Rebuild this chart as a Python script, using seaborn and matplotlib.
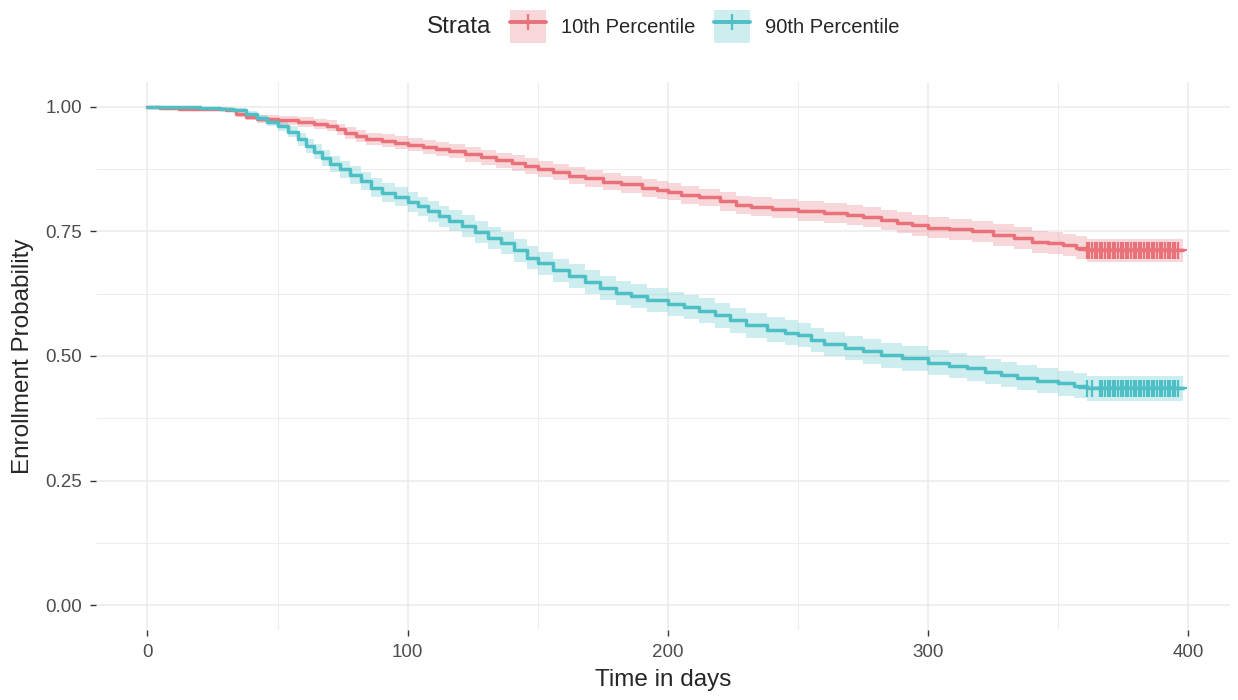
import matplotlib
matplotlib.use("Agg")
import matplotlib.pyplot as plt
from matplotlib.lines import Line2D
from matplotlib.patches import Patch
from matplotlib.ticker import MultipleLocator
import seaborn as sns
import pandas as pd

# Kaplan-Meier style curves
strata = ["10th Percentile", "90th Percentile"]
colores = ["#E9727A", "#4DBFC5"]

tiempo_p10 = [0, 5, 12, 30, 34, 38, 42, 50, 58, 64,
              69, 73, 76, 80, 84, 90, 95, 100, 106, 111,
              116, 122, 128, 134, 140, 145, 150, 156, 162, 168,
              175, 182, 190, 196, 200, 205, 212, 220, 226, 232,
              240, 250, 260, 269, 275, 282, 288, 294, 300, 308,
              317, 325, 333, 340, 346, 352, 357, 361, 398]
surv_p10 = [1.000, 0.997, 0.995, 0.993, 0.986, 0.980, 0.976, 0.973, 0.970, 0.966,
            0.962, 0.955, 0.948, 0.942, 0.936, 0.932, 0.928, 0.924, 0.919, 0.915,
            0.911, 0.905, 0.899, 0.893, 0.887, 0.881, 0.876, 0.869, 0.862, 0.857,
            0.850, 0.845, 0.838, 0.833, 0.830, 0.823, 0.818, 0.810, 0.803, 0.799,
            0.795, 0.790, 0.787, 0.783, 0.778, 0.772, 0.767, 0.762, 0.757, 0.754,
            0.750, 0.743, 0.737, 0.729, 0.726, 0.722, 0.717, 0.712, 0.712]
ic_p10 = [0.000, 0.002, 0.003, 0.004, 0.006, 0.007, 0.008, 0.009, 0.010, 0.010,
          0.011, 0.011, 0.012, 0.012, 0.012, 0.013, 0.013, 0.013, 0.014, 0.014,
          0.014, 0.015, 0.015, 0.015, 0.016, 0.016, 0.016, 0.016, 0.017, 0.017,
          0.017, 0.017, 0.018, 0.018, 0.018, 0.018, 0.018, 0.019, 0.019, 0.019,
          0.019, 0.020, 0.020, 0.020, 0.020, 0.020, 0.021, 0.021, 0.021, 0.021,
          0.021, 0.022, 0.022, 0.022, 0.022, 0.022, 0.023, 0.023, 0.023]

tiempo_p90 = [0, 20, 28, 33, 38, 42, 46, 50, 54, 58,
              61, 64, 67, 70, 74, 78, 82, 86, 90, 95,
              100, 104, 108, 112, 116, 121, 126, 131, 136, 141,
              146, 150, 156, 162, 168, 174, 180, 186, 192, 200,
              206, 212, 218, 224, 230, 238, 245, 250, 255, 260,
              268, 275, 282, 290, 300, 308, 315, 322, 328, 334,
              342, 350, 356, 361, 398]
surv_p90 = [1.000, 0.998, 0.996, 0.993, 0.985, 0.977, 0.970, 0.962, 0.950, 0.935,
            0.922, 0.910, 0.897, 0.885, 0.875, 0.864, 0.852, 0.838, 0.828, 0.820,
            0.809, 0.800, 0.790, 0.780, 0.771, 0.760, 0.748, 0.736, 0.727, 0.712,
            0.697, 0.686, 0.672, 0.660, 0.648, 0.636, 0.627, 0.620, 0.613, 0.605,
            0.598, 0.591, 0.582, 0.572, 0.562, 0.553, 0.547, 0.542, 0.532, 0.524,
            0.516, 0.509, 0.501, 0.495, 0.486, 0.480, 0.475, 0.468, 0.462, 0.456,
            0.450, 0.445, 0.440, 0.435, 0.435]
ic_p90 = [0.000, 0.002, 0.003, 0.004, 0.006, 0.007, 0.008, 0.010, 0.011, 0.013,
          0.014, 0.015, 0.016, 0.016, 0.017, 0.018, 0.018, 0.019, 0.019, 0.020,
          0.020, 0.020, 0.021, 0.021, 0.021, 0.022, 0.022, 0.022, 0.022, 0.023,
          0.023, 0.023, 0.023, 0.024, 0.024, 0.024, 0.024, 0.024, 0.024, 0.024,
          0.024, 0.025, 0.025, 0.025, 0.025, 0.025, 0.025, 0.025, 0.025, 0.025,
          0.025, 0.025, 0.025, 0.025, 0.025, 0.025, 0.025, 0.025, 0.025, 0.025,
          0.025, 0.025, 0.025, 0.025, 0.025]

# censurados (marcas +)
censura_p10 = [361, 362, 363, 364, 365, 366, 367, 368, 369, 370, 371, 372,
               373, 374, 375, 376, 377, 378, 379, 380, 381, 382, 383, 384,
               385, 386, 387, 388, 389, 390, 391, 392, 393, 394, 395, 396]
censura_p90 = [361, 363, 366, 367, 368, 369, 370, 371, 372, 373, 374, 375,
               376, 377, 378, 379, 380, 381, 382, 383, 384, 385, 386, 387,
               388, 389, 390, 391, 392, 393, 394, 395, 396]

curvas = pd.concat([
    pd.DataFrame({"tiempo": tiempo_p10, "surv": surv_p10, "ic": ic_p10, "strata": strata[0]}),
    pd.DataFrame({"tiempo": tiempo_p90, "surv": surv_p90, "ic": ic_p90, "strata": strata[1]}),
], ignore_index=True)
curvas["lower"] = curvas["surv"] - curvas["ic"]
curvas["upper"] = curvas["surv"] + curvas["ic"]

censuras = pd.concat([
    pd.DataFrame({"tiempo": censura_p10, "surv": surv_p10[-1], "strata": strata[0]}),
    pd.DataFrame({"tiempo": censura_p90, "surv": surv_p90[-1], "strata": strata[1]}),
], ignore_index=True)

sns.set_style("white")
plt.rcParams["font.family"] = ["Liberation Sans", "DejaVu Sans"]

fig = plt.figure(figsize=(12.38, 7), dpi=100)
ax = fig.add_axes([0.0775, 0.10, 0.916, 0.783])

paleta = dict(zip(strata, colores))

for s in strata:
    d = curvas[curvas["strata"] == s]
    ax.fill_between(d["tiempo"], d["lower"], d["upper"], step="post",
                    color=paleta[s], alpha=0.28, linewidth=0, zorder=2)

sns.lineplot(data=curvas, x="tiempo", y="surv", hue="strata", palette=paleta,
             drawstyle="steps-post", estimator=None, linewidth=2.5,
             legend=False, ax=ax, zorder=3)

sns.scatterplot(data=censuras, x="tiempo", y="surv", hue="strata", palette=paleta,
                marker="+", s=160, linewidth=1.6, legend=False, ax=ax, zorder=4)

ax.set_xlim(-19.8, 416)
ax.set_ylim(-0.05, 1.05)
ax.xaxis.set_major_locator(MultipleLocator(100))
ax.xaxis.set_minor_locator(MultipleLocator(50))
ax.yaxis.set_major_locator(MultipleLocator(0.25))
ax.yaxis.set_minor_locator(MultipleLocator(0.125))
ax.set_yticklabels([f"{v:.2f}" for v in ax.get_yticks()])

ax.grid(which="major", color="#EBEBEB", linewidth=1.1, zorder=0)
ax.grid(which="minor", color="#EDEDED", linewidth=0.8, zorder=0)
ax.set_axisbelow(True)
for sp in ax.spines.values():
    sp.set_visible(False)

ax.tick_params(axis="both", which="major", length=4, width=1.0, color="#333333",
               labelsize=13.5, labelcolor="#4D4D4D", pad=6, bottom=True, left=True)
ax.tick_params(axis="both", which="minor", length=0)

ax.set_xlabel("Time in days", fontsize=17.5, labelpad=6)
ax.set_ylabel("Enrollment Probability", fontsize=17.5, labelpad=8)

# leyenda arriba, estilo ggplot
handles = []
for s in strata:
    handles.append((Patch(facecolor=paleta[s], alpha=0.28, edgecolor="none"),
                    Line2D([], [], color=paleta[s], linewidth=2.8, marker="+",
                           markersize=12, markeredgewidth=1.6)))
fig.text(0.345, 0.962, "Strata", fontsize=17.5, ha="left", va="center")
fig.legend(handles, strata, loc="center left", bbox_to_anchor=(0.412, 0.962),
           ncol=2, frameon=False, fontsize=14.5, handlelength=1.8, handleheight=2.1,
           handletextpad=0.75, columnspacing=0.9, borderaxespad=0, borderpad=0)

plt.savefig("out.png", dpi=100)
